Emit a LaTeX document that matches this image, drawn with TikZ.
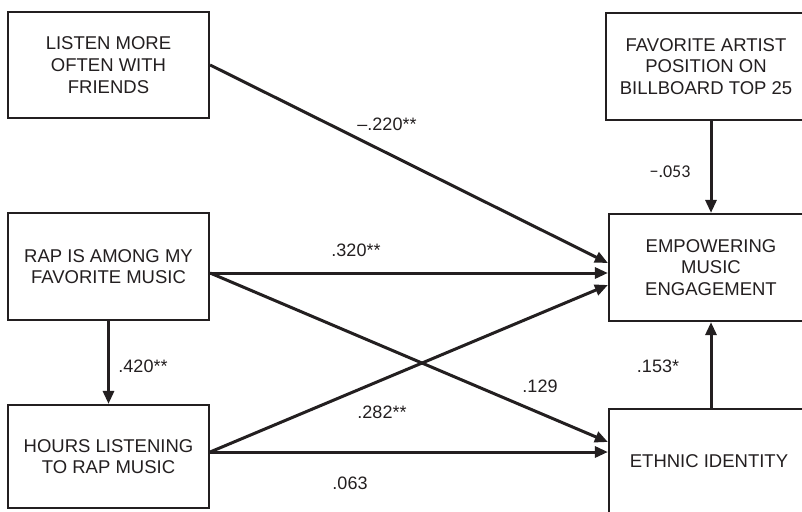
\documentclass[tikz,border=0pt]{standalone}
\usepackage{fontspec}
\setmainfont{Liberation Sans}
\newfontfamily\calibrifont[Ligatures=TeX]{Carlito}
\usepackage{tikz}
\usetikzlibrary{arrows.meta,positioning,calc}
\definecolor{inkGray}{RGB}{35,31,32}

\begin{document}
\begin{tikzpicture}[x=1pt,y=-1pt,
    every node/.style={font=\fontsize{18.5}{21.7}\selectfont,text=inkGray},
    varbox/.style={draw=inkGray,line width=2.2pt,align=center,inner sep=0pt,
                   minimum width=#1},
    varbox/.default=201pt,
    path/.style={draw=inkGray,line width=3pt,-{Triangle[length=13pt,width=11pt]}},
    coef/.style={font=\fontsize{18}{20}\selectfont}]
  \useasboundingbox (0,0) rectangle (802,511);
  \clip (0,0) rectangle (802,511);
  \fill[white] (0,0) rectangle (802,511);

  \node[varbox,minimum height=106pt] (listen) at (108.5,65) {LISTEN MORE\\OFTEN WITH\\FRIENDS};
  \node[varbox,minimum height=107pt] (rap) at (108.5,266.5) {RAP IS AMONG MY\\FAVORITE MUSIC};
  \node[varbox,minimum height=103pt] (hours) at (108.5,456.5) {HOURS LISTENING\\TO RAP MUSIC};
  \node[varbox=200pt,minimum height=107pt] (artist) at (706,66.5) {FAVORITE ARTIST\\POSITION ON\\BILLBOARD TOP 25};
  \node[varbox=204pt,minimum height=107pt] (empower) at (711,267.5) {EMPOWERING\\MUSIC\\ENGAGEMENT};
  \node[varbox=200pt,minimum height=105pt] (ethnic) at (709,461.5) {ETHNIC IDENTITY};

  \draw[path] (listen.east) -- ([yshift=4.5pt]empower.west);
  \draw[path] ([yshift=-6.5pt]rap.east) -- ([yshift=-5.5pt]empower.west);
  \draw[path] ([yshift=-6.5pt]rap.east) -- ([yshift=19.5pt]ethnic.west);
  \draw[path] ([yshift=4.5pt]hours.east) -- ([yshift=-17.5pt]empower.west);
  \draw[path] ([yshift=4.5pt]hours.east) -- ([yshift=4.5pt]hours.east -| ethnic.west);
  \draw[path] (rap.south) -- (hours.north);
  \draw[path] (artist.south -| empower.north) -- (empower.north);
  \draw[path] (ethnic.north -| empower.south) -- (empower.south);

  \node[coef] (cListen) at (387,124) {--.220**};
  \node[coef] (cRapEmp) at (356,250) {.320**};
  \node[coef] (cRapHrs) at (143,366) {.420**};
  \node[coef] (cHrsEmp) at (382,412) {.282**};
  \node[coef] (cHrsEth) at (350,483) {.063};
  \node[coef] (cRapEth) at (540,386) {.129};
  \node[coef] (cEthEmp) at (658,366) {.153*};
  \node[coef,font=\calibrifont\fontsize{18}{20}\selectfont] (cArtist) at (670,172) {−.053};
\end{tikzpicture}
\end{document}
